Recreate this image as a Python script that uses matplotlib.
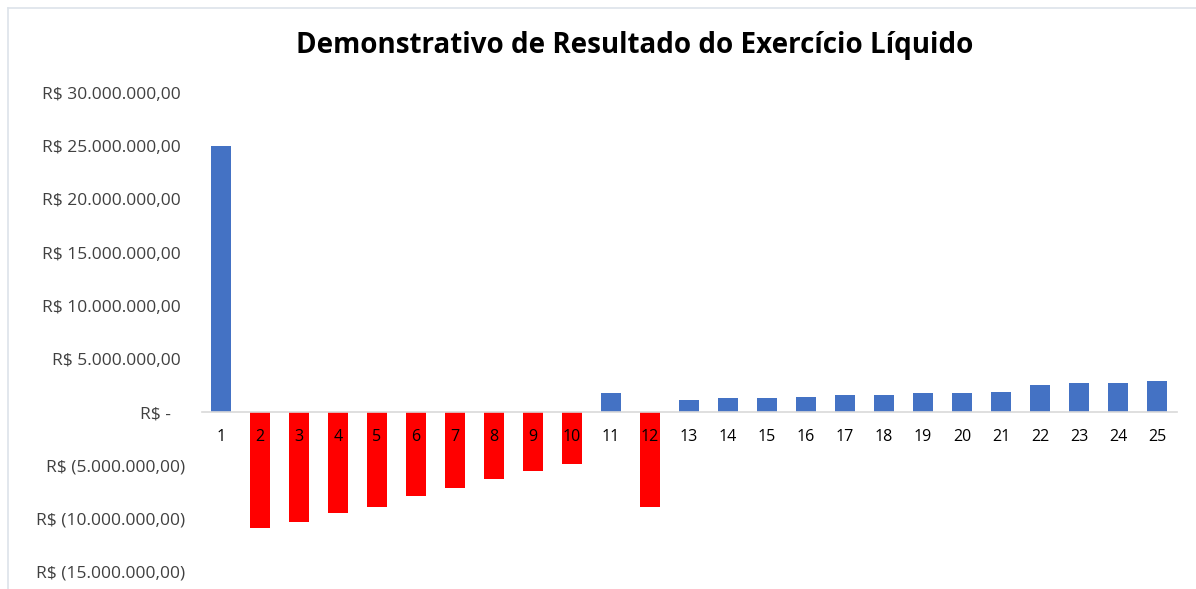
import matplotlib

matplotlib.use("Agg")
import matplotlib.pyplot as plt
from matplotlib.lines import Line2D
from matplotlib.ticker import FixedLocator, FuncFormatter

periods = [str(i) for i in range(1, 26)]
net_income = [
    25.0, -10.9, -10.3, -9.5, -8.9, -7.9, -7.1, -6.3, -5.5, -4.9,
    1.8, -8.9, 1.17, 1.32, 1.32, 1.48, 1.64, 1.64, 1.79, 1.79,
    1.95, 2.58, 2.74, 2.74, 2.9,
]  # milhoes de R$
y_ticks = [-15, -10, -5, 0, 5, 10, 15, 20, 25, 30]

BLUE = "#4472C4"
RED = "#FF0000"
FONT = ["Open Sans", "DejaVu Sans"]


def brl(v, _pos=None):
    if v == 0:
        return "R$ -   "
    s = f"{abs(v) * 1_000_000:,.2f}".replace(",", "X").replace(".", ",").replace("X", ".")
    return f"R$ ({s})" if v < 0 else f"R$ {s} "


fig = plt.figure(figsize=(11.96, 5.89), dpi=100)
ax = fig.add_axes([0.1685, 0.0289, 0.8152, 0.8131])

x = list(range(len(periods)))
colors = [BLUE if v >= 0 else RED for v in net_income]
ax.bar(x, net_income, width=0.52, color=colors, zorder=1)

ax.set_xlim(-0.5, len(periods) - 0.5)
ax.set_ylim(-15, 30)
ax.yaxis.set_major_locator(FixedLocator(y_ticks))
ax.yaxis.set_major_formatter(FuncFormatter(brl))
ax.set_xticks(x)
ax.set_xticklabels(periods)

for side in ("top", "right", "left"):
    ax.spines[side].set_visible(False)
ax.spines["bottom"].set_position(("data", 0))
ax.spines["bottom"].set_color("#d9d9d9")
ax.spines["bottom"].set_linewidth(1.2)
ax.tick_params(axis="both", length=0, labelcolor="#404040")
ax.tick_params(axis="x", pad=12, labelsize=11.5, labelcolor="#000000")
ax.tick_params(axis="y", pad=12, labelsize=12.5)
for lbl in ax.get_xticklabels() + ax.get_yticklabels():
    lbl.set_family(FONT)

fig.text(0.531, 0.922, "Demonstrativo de Resultado do Exercício Líquido",
         ha="center", va="center", fontsize=20, fontweight="bold", family=FONT)

# moldura do grafico (esquerda e topo)
fig.add_artist(Line2D([0.0069, 0.0069], [0.0, 0.9865], transform=fig.transFigure,
                      color="#dde3ea", linewidth=1.2))
fig.add_artist(Line2D([0.0069, 1.0], [0.9865, 0.9865], transform=fig.transFigure,
                      color="#dde3ea", linewidth=1.2))

fig.savefig("out.png", dpi=100)
